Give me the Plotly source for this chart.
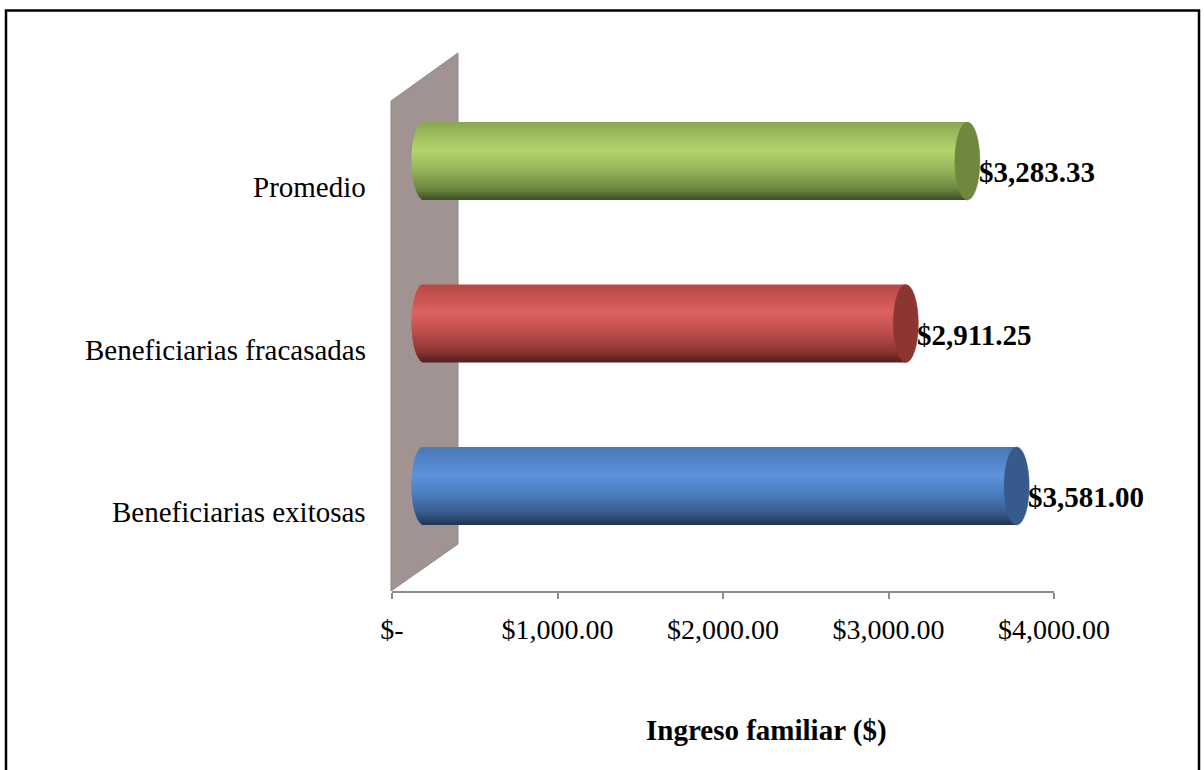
import numpy as np
import plotly.graph_objects as go

# ---------------- data ----------------
categories = ["Beneficiarias exitosas", "Beneficiarias fracasadas", "Promedio"]
values = [3581.00, 2911.25, 3283.33]
value_labels = ["$3,581.00", "$2,911.25", "$3,283.33"]
tick_values = [0, 1000, 2000, 3000, 4000]
tick_labels = ["$-", "$1,000.00", "$2,000.00", "$3,000.00", "$4,000.00"]
axis_title = "Ingreso familiar ($)"

# ---------------- style ----------------
W, H = 1204, 770
X0_PX, X1_PX = 392, 1054
Y_TOP, Y_BOT = 52, 591
XMAX = 4000
ppd = (X1_PX - X0_PX) / XMAX          # pixels per dollar
DEPTH_PX = 32                          # 3D depth shift of the bars
shift = DEPTH_PX / ppd
CAP_PX = 12.5
cap = CAP_PX / ppd
YR = [-0.646, 2.671]
BAR_W = 0.48
FONT = "Liberation Serif, Times New Roman, serif"
FS = 29
FS_TICK = 28

# gradient stops (0 = top of cylinder, 1 = bottom)
grad_stops = [
    [(0.0, "#4a78b4"), (0.36, "#5d93dc"), (0.62, "#4b7cbc"), (0.86, "#36588a"), (1.0, "#1f3350")],
    [(0.0, "#b84845"), (0.36, "#dc625e"), (0.62, "#bb4d4a"), (0.86, "#8a3533"), (1.0, "#4e1f1e")],
    [(0.0, "#8aa851"), (0.36, "#b2d56d"), (0.62, "#93b35a"), (0.86, "#6a8640"), (1.0, "#3c4d22")],
]
cap_colors = ["#355a8b", "#8c3532", "#6e893f"]


def hex2rgb(h):
    h = h.lstrip("#")
    return np.array([int(h[i:i + 2], 16) for i in (0, 2, 4)], dtype=float)


def grad(stops, s):
    for (s0, c0), (s1, c1) in zip(stops[:-1], stops[1:]):
        if s0 <= s <= s1:
            f = (s - s0) / (s1 - s0) if s1 > s0 else 0
            c = hex2rgb(c0) * (1 - f) + hex2rgb(c1) * f
            return "rgb(%d,%d,%d)" % tuple(np.round(c))
    return stops[-1][1]


ypos = list(range(len(categories)))

fig = go.Figure()

# invisible anchor trace so the value axis is drawn
fig.add_trace(go.Scatter(x=tick_values, y=[YR[0]] * len(tick_values), mode="markers",
                         marker=dict(opacity=0), xaxis="x", yaxis="y",
                         hoverinfo="skip", showlegend=False, cliponaxis=True))

# cylinder bodies drawn as thin horizontal bands
N = 48
bw = BAR_W / N
for i in range(N):
    lo = -BAR_W / 2 + i * bw
    mid = lo + bw / 2
    t = mid / (BAR_W / 2)
    s = (BAR_W / 2 - mid) / BAR_W
    b = -cap * np.sqrt(max(0.0, 1 - t * t))
    width = min(bw * 1.6, BAR_W / 2 - lo)
    fig.add_trace(go.Bar(
        y=ypos,
        x=[v - b for v in values],
        base=[b] * len(values),
        orientation="h",
        width=width,
        offset=lo,
        marker=dict(color=[grad(grad_stops[k], s) for k in range(len(values))],
                    line=dict(width=0)),
        xaxis="x2",
        yaxis="y",
        hoverinfo="skip",
        showlegend=False,
    ))

shapes = []
# back wall (3D decoration)
wall_pts = [(391, 101), (458, 53), (458, 544), (391, 591)]
path = "M " + " L ".join("%f,%f" % (px / W, 1 - py / H) for px, py in wall_pts) + " Z"
shapes.append(dict(type="path", path=path, xref="paper", yref="paper",
                   fillcolor="#a09391", line=dict(color="#8a8a8a", width=1), layer="below"))

# end caps
for k, v in enumerate(values):
    shapes.append(dict(type="circle", xref="x2", yref="y",
                       x0=v - cap, x1=v + cap, y0=k - BAR_W / 2, y1=k + BAR_W / 2,
                       fillcolor=cap_colors[k], line=dict(color=cap_colors[k], width=0.5),
                       layer="above"))

# outer frame
shapes.append(dict(type="rect", xref="paper", yref="paper",
                   x0=6 / W, x1=1199 / W, y0=-0.2, y1=1 - 10.5 / H,
                   line=dict(color="black", width=2.5), fillcolor="rgba(0,0,0,0)"))

annotations = []
for k, (v, lab) in enumerate(zip(values, value_labels)):
    annotations.append(dict(x=v + cap, y=k, xref="x2", yref="y", text="<b>%s</b>" % lab,
                            showarrow=False, xanchor="left", yanchor="middle",
                            xshift=-3, yshift=-11,
                            font=dict(family=FONT, size=FS, color="black")))
for k, c in enumerate(categories):
    annotations.append(dict(x=368 / W, y=k, xref="paper", yref="y", text=c,
                            showarrow=False, xanchor="right", yanchor="middle", yshift=-26,
                            font=dict(family=FONT, size=FS, color="black")))
annotations.append(dict(x=766 / W, y=1 - 730 / H, xref="paper", yref="paper",
                        text="<b>%s</b>" % axis_title, showarrow=False,
                        xanchor="center", yanchor="middle",
                        font=dict(family=FONT, size=FS, color="black")))

fig.update_layout(
    width=W, height=H,
    autosize=False,
    margin=dict(l=0, r=0, t=0, b=0, pad=0, autoexpand=False),
    paper_bgcolor="white", plot_bgcolor="rgba(0,0,0,0)",
    barmode="overlay",
    showlegend=False,
    xaxis=dict(domain=[X0_PX / W, X1_PX / W], range=[0, XMAX],
               tickvals=tick_values, ticktext=tick_labels,
               showline=True, linecolor="#8c8c8c", linewidth=1.5,
               ticks="outside", ticklen=6, tickwidth=1.5, tickcolor="#8c8c8c",
               showgrid=False, zeroline=False, ticklabelstandoff=7, automargin=False,
               tickfont=dict(family=FONT, size=FS_TICK, color="black"), fixedrange=True),
    xaxis2=dict(overlaying="x", domain=[X0_PX / W, X1_PX / W], automargin=False,
                range=[-shift, XMAX - shift], visible=False, fixedrange=True),
    yaxis=dict(domain=[1 - Y_BOT / H, 1 - Y_TOP / H], range=YR, visible=False,
               automargin=False, fixedrange=True),
    shapes=shapes,
    annotations=annotations,
)

fig.write_html("out.html", config={"displayModeBar": False, "responsive": False},
               post_script="document.body.style.margin='0px';")
